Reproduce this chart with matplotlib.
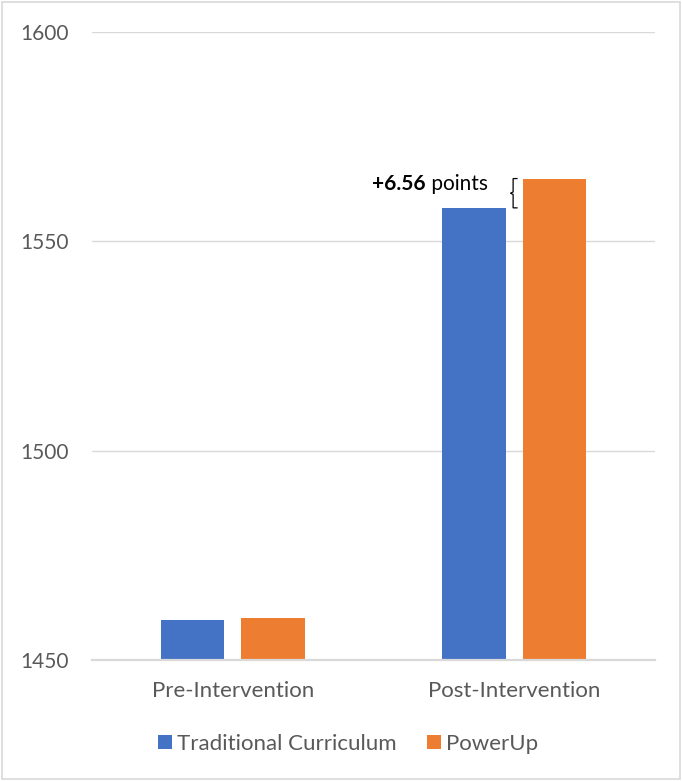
import matplotlib
matplotlib.use("Agg")
import matplotlib.pyplot as plt
from matplotlib.patches import Rectangle
from matplotlib.path import Path
from matplotlib.patches import PathPatch
import numpy as np

categories = ["Pre-Intervention", "Post-Intervention"]
series_names = ["Traditional Curriculum", "PowerUp"]
traditional = [1459.5, 1558.0]
powerup = [1460.0, 1565.0]
yticks = [1450, 1500, 1550, 1600]
annotation_value = "+6.56"

colors = ["#4472C4", "#ED7D31"]
grid_c = "#D9D9D9"
text_c = "#595959"

plt.rcParams['font.family'] = ['Lato', 'DejaVu Sans']

fig = plt.figure(figsize=(6.82, 7.81), dpi=100)
ax = fig.add_axes([0.1349, 0.1549, 0.9604 - 0.1349, 0.959 - 0.1549])

x = np.arange(len(categories))
w = 0.224
off = 0.143
ax.bar(x - off, traditional, w, color=colors[0], label=series_names[0], zorder=3)
ax.bar(x + off, powerup, w, color=colors[1], label=series_names[1], zorder=3)

ax.set_xlim(-0.5, 1.5)
ax.set_ylim(1450, 1600)
ax.set_yticks(yticks)
ax.set_yticklabels([str(t) for t in yticks])
ax.set_xticks(x)
ax.set_xticklabels(categories)
ax.grid(axis='y', color=grid_c, linewidth=1, zorder=0)
for s in ['top', 'right', 'left']:
    ax.spines[s].set_visible(False)
ax.spines['bottom'].set_color(grid_c)
ax.spines['bottom'].set_linewidth(1.6)
ax.spines['bottom'].set_zorder(4)
ax.tick_params(axis='y', length=0, pad=17, labelsize=15, labelcolor=text_c)
ax.tick_params(axis='x', length=0, pad=15, labelsize=16, labelcolor=text_c)

# curly brace between the two post-intervention bars
y0, y1 = traditional[1], powerup[1]
xb = 1 + off - w / 2 - 0.035
hw = 0.016
ym = (y0 + y1) / 2
verts = [(xb + hw, y1), (xb, y1), (xb, ym + 0.3), (xb - hw * 0.6, ym),
         (xb, ym - 0.3), (xb, y0), (xb + hw, y0)]
ax.add_patch(PathPatch(Path(verts), fill=False, edgecolor="black", linewidth=0.9, zorder=5))

t1 = ax.text(0.495, y1 - 1.2, annotation_value, fontsize=15, fontweight='bold',
             color="black", ha='left', va='center', zorder=5)
ax.annotate(" points", xy=(1, 0), xycoords=t1, va='bottom', ha='left',
            fontsize=15, color="black")

fig.legend(loc='center', bbox_to_anchor=(348 / 682, 1 - 744 / 781), ncol=2,
           frameon=False, fontsize=16, labelcolor=text_c, handlelength=0.62,
           handleheight=0.62, handletextpad=0.22, columnspacing=1.4)

fig.patches.append(Rectangle((0.003, 0.002), 0.994, 0.995, transform=fig.transFigure,
                             fill=False, edgecolor=grid_c, linewidth=1.2))

fig.savefig("out.png", dpi=100)
